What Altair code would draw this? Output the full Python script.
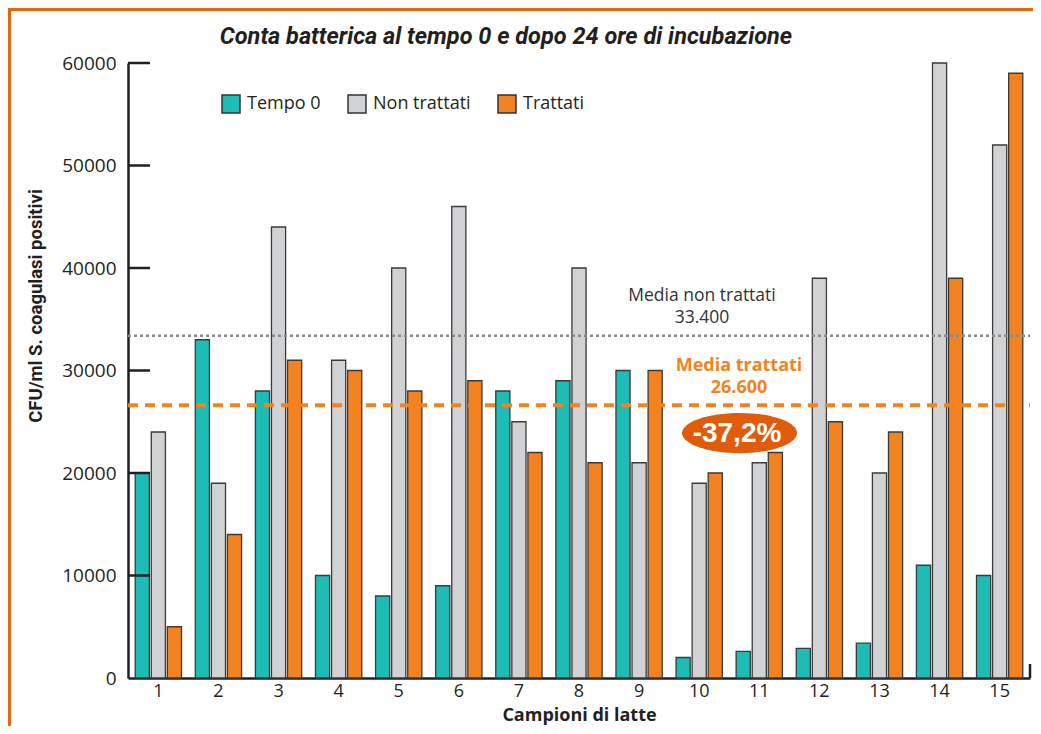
import altair as alt
import pandas as pd

# ---------------- data ----------------
campioni = [str(i) for i in range(1, 16)]
serie = ["Tempo 0", "Non trattati", "Trattati"]
tempo0 = [20000, 33000, 28000, 10000, 8000, 9000, 28000, 29000, 30000, 2000, 2600, 2900, 3400, 11000, 10000]
non_trattati = [24000, 19000, 44000, 31000, 40000, 46000, 25000, 40000, 21000, 19000, 21000, 39000, 20000, 60000, 52000]
trattati = [5000, 14000, 31000, 30000, 28000, 29000, 22000, 21000, 30000, 20000, 22000, 25000, 24000, 39000, 59000]
y_ticks = [0, 10000, 20000, 30000, 40000, 50000, 60000]
media_non_trattati = 33400
media_trattati = 26600
etichetta_nt = ["Media non trattati", "33.400"]
etichetta_t = ["Media trattati", "26.600"]
riduzione = "-37,2%"
titolo = "Conta batterica al tempo 0 e dopo 24 ore di incubazione"
titolo_x = "Campioni di latte"
titolo_y = "CFU/ml  S. coagulasi positivi"

colori = ["#1dbdb6", "#d1d2d4", "#f38220"]
FONT = "Open Sans"
INK = "#231f20"

W, H = 902, 615

df = pd.DataFrame({
    "campione": campioni * 3,
    "serie": [s for s in serie for _ in campioni],
    "valore": tempo0 + non_trattati + trattati,
})

yscale = alt.Scale(domain=[0, 60000], nice=False)

bars = alt.Chart(df).mark_bar(stroke="#3a3a3a", strokeWidth=1.3).encode(
    x=alt.X("campione:N", sort=campioni,
            scale=alt.Scale(paddingInner=0.23, paddingOuter=0.12),
            axis=alt.Axis(title=titolo_x, labelAngle=0, ticks=False,
                          domainWidth=2.5, domainColor=INK,
                          labelFont=FONT, labelFontSize=18, labelColor=INK, labelPadding=4,
                          titleFont=FONT, titleFontSize=18, titleFontWeight="bold",
                          titleColor=INK, titlePadding=6)),
    xOffset=alt.XOffset("serie:N", sort=serie, scale=alt.Scale(paddingInner=0.12)),
    y=alt.Y("valore:Q", scale=yscale,
            axis=alt.Axis(values=y_ticks, format="d", ticks=False, title=None, grid=False,
                          domainWidth=2.5, domainColor=INK,
                          labelFont=FONT, labelFontSize=19, labelColor=INK, labelPadding=12)),
    color=alt.Color("serie:N", sort=serie,
                    scale=alt.Scale(domain=serie, range=colori),
                    legend=alt.Legend(title=None, orient="none", legendX=93, legendY=31,
                                      direction="horizontal", symbolType="square",
                                      symbolSize=324, symbolStrokeColor="#333333",
                                      symbolStrokeWidth=1.5, symbolOpacity=1,
                                      labelFont=FONT, labelFontSize=18, labelColor=INK,
                                      labelOffset=6, columnPadding=24)),
)

# inward y ticks
tick_df = pd.DataFrame({"v": y_ticks[1:]})
ticks = alt.Chart(tick_df).mark_rule(color=INK, strokeWidth=2.5).encode(
    y=alt.Y("v:Q", scale=yscale), x=alt.value(0), x2=alt.value(22))

one = pd.DataFrame({"k": [0]})
end_tick = alt.Chart(one).mark_rule(color=INK, strokeWidth=2.5).encode(
    x=alt.value(W), y=alt.value(H - 14), y2=alt.value(H))

# mean lines
mnt_df = pd.DataFrame({"v": [media_non_trattati]})
mt_df = pd.DataFrame({"v": [media_trattati]})
line_nt = alt.Chart(mnt_df).mark_rule(color="#8a8a8a", strokeWidth=2.5, strokeDash=[3, 3]).encode(
    y=alt.Y("v:Q", scale=yscale), x=alt.value(0), x2=alt.value(W))
line_t = alt.Chart(mt_df).mark_rule(color="#f38220", strokeWidth=4, strokeDash=[10, 7]).encode(
    y=alt.Y("v:Q", scale=yscale), x=alt.value(0), x2=alt.value(W))


def label(text, value, dy, x, **kw):
    d = pd.DataFrame({"v": [value], "t": [text]})
    return alt.Chart(d).mark_text(baseline="middle", dy=dy, **kw).encode(
        y=alt.Y("v:Q", scale=yscale), x=alt.value(x), text="t:N")


txt_nt1 = label(etichetta_nt[0], media_non_trattati, -40, 574, font=FONT, fontSize=17.5, color="#333333")
txt_nt2 = label(etichetta_nt[1], media_non_trattati, -18, 574, font=FONT, fontSize=17.5, color="#333333")
txt_t1 = label(etichetta_t[0], media_trattati, -39, 611, font=FONT, fontSize=18, fontWeight="bold", color="#f38220")
txt_t2 = label(etichetta_t[1], media_trattati, -17, 611, font=FONT, fontSize=18, fontWeight="bold", color="#f38220")

ell_df = pd.DataFrame({"t": [riduzione]})
ellipse = alt.Chart(ell_df).mark_point(
    shape="M -1 0 A 1 0.35 0 1 0 1 0 A 1 0.35 0 1 0 -1 0 Z",
    filled=True, color="#e05c0a", opacity=1, size=13225, strokeWidth=0).encode(
    x=alt.value(611.5), y=alt.value(370))
ell_txt = alt.Chart(ell_df).mark_text(font="Liberation Sans", fontSize=28, fontWeight="bold",
                                      color="white", baseline="middle").encode(
    x=alt.value(609), y=alt.value(371), text="t:N")

tit_df = pd.DataFrame({"t": [titolo]})
title_txt = alt.Chart(tit_df).mark_text(font="Roboto", fontSize=23.5, fontWeight="bold",
                                        fontStyle="italic", color=INK, baseline="middle").encode(
    x=alt.value(378), y=alt.value(-26), text="t:N")

yt_df = pd.DataFrame({"t": [titolo_y]})
ytitle = alt.Chart(yt_df).mark_text(font="Roboto", fontSize=18.5, fontWeight="bold", color=INK,
                                    angle=270, baseline="middle").encode(
    x=alt.value(-92), y=alt.value(243), text="t:N")

# orange frame
frame_left = alt.Chart(one).mark_rule(color="#e8650a", strokeWidth=3).encode(
    x=alt.value(-118.5), y=alt.value(-55), y2=alt.value(H + 48))
frame_top = alt.Chart(one).mark_rule(color="#e8650a", strokeWidth=3).encode(
    y=alt.value(-53.5), x=alt.value(-120), x2=alt.value(W + 3))

chart = alt.layer(
    bars, ticks, end_tick, line_nt, line_t, txt_nt1, txt_nt2, txt_t1, txt_t2, ellipse, ell_txt,
    title_txt, ytitle, frame_left, frame_top
).resolve_scale(y="shared").properties(
    width=W, height=H,
    autosize=alt.AutoSizeParams(type="none"),
    padding={"left": 120, "top": 55, "right": 3, "bottom": 48},
    background="white",
).configure_view(stroke=None)

chart.save("out.html", embed_options={"renderer": "svg", "actions": False})
